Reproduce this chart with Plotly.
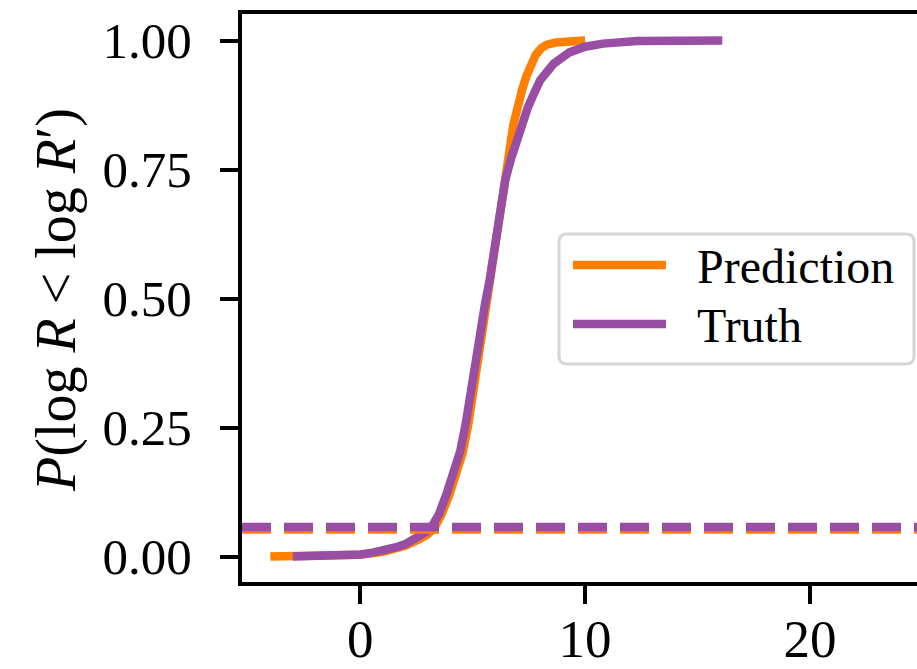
import plotly.graph_objects as go

# ---- data ----
pred_x = [-4.0, -3.0, -2.0, -1.0, 0.0, 1.0, 2.0, 2.6, 3.0, 3.3, 3.6, 3.95, 4.25, 4.55, 4.8, 5.0,
          5.2, 5.45, 5.65, 5.85, 6.05, 6.25, 6.45, 6.6, 6.8, 7.0, 7.2, 7.4, 7.6, 7.8, 8.05, 8.3,
          8.7, 9.2, 10.0]
pred_y = [0.0, 0.0, 0.0005, 0.0015, 0.0035, 0.009, 0.021, 0.033, 0.043, 0.056, 0.08, 0.118,
          0.155, 0.20, 0.255, 0.31, 0.37, 0.44, 0.49, 0.545, 0.60, 0.66, 0.72, 0.775, 0.835,
          0.875, 0.905, 0.932, 0.955, 0.972, 0.985, 0.992, 0.996, 0.999, 1.0]

truth_x = [-3.0, -2.0, -1.0, 0.0, 0.5, 1.0, 1.6, 2.0, 2.5, 2.9, 3.2, 3.5, 3.85, 4.15, 4.45,
           4.7, 4.9, 5.1, 5.35, 5.55, 5.75, 6.0, 6.25, 6.45, 6.7, 6.95, 7.2, 7.45, 7.7, 8.0,
           8.6, 9.3, 10.0, 10.8, 12.3, 14.0, 16.1]
truth_y = [0.0, 0.0005, 0.0015, 0.004, 0.007, 0.011, 0.018, 0.024, 0.035, 0.047, 0.060, 0.082,
           0.123, 0.16, 0.205, 0.26, 0.32, 0.38, 0.45, 0.49, 0.535, 0.60, 0.67, 0.73, 0.77,
           0.805, 0.84, 0.87, 0.895, 0.923, 0.955, 0.977, 0.988, 0.994, 0.999, 1.0, 1.0]

pred_level = 0.0525
truth_level = 0.0571

series_names = ["Prediction", "Truth"]
colors = ["#ff7f00", "#984ea3"]

x_ticks = [0, 10, 20]
y_ticks = [0.0, 0.25, 0.5, 0.75, 1.0]
y_ticktext = ["0.00", "0.25", "0.50", "0.75", "1.00"]

# ---- figure geometry ----
W, H = 917, 669
ML, MR, MT, MB = 242, 0, 14, 87
PW, PH = W - ML - MR, H - MT - MB
FONT = "Liberation Serif"
LW = 8.5


def px(xp):
    return (xp - ML) / PW


def py(yp):
    return (H - MB - yp) / PH


fig = go.Figure()
for xs, ys, name, c in [(pred_x, pred_y, series_names[0], colors[0]),
                        (truth_x, truth_y, series_names[1], colors[1])]:
    fig.add_trace(go.Scatter(x=xs, y=ys, mode="lines", name=name,
                             line=dict(color=c, width=LW), showlegend=False))

shapes = []
for lvl, c in [(pred_level, colors[0]), (truth_level, colors[1])]:
    shapes.append(dict(type="line", xref="x domain", yref="y", x0=0, x1=1, y0=lvl, y1=lvl,
                       line=dict(color=c, width=LW, dash="29px,13px")))

# custom legend box (rounded)
x0, x1, y0, y1 = px(559), px(914), py(364), py(234)
rx, ry = 8 / PW, 8 / PH
path = (f"M{x0+rx},{y0} L{x1-rx},{y0} Q{x1},{y0} {x1},{y0+ry} L{x1},{y1-ry} "
        f"Q{x1},{y1} {x1-rx},{y1} L{x0+rx},{y1} Q{x0},{y1} {x0},{y1-ry} "
        f"L{x0},{y0+ry} Q{x0},{y0} {x0+rx},{y0} Z")
shapes.append(dict(type="path", xref="paper", yref="paper", path=path,
                   fillcolor="white", line=dict(color="#d6d6d6", width=3)))
annotations = []
for i, (name, c) in enumerate(zip(series_names, colors)):
    yy = 265 + i * 59
    shapes.append(dict(type="line", xref="paper", yref="paper", x0=px(573), x1=px(666),
                       y0=py(yy), y1=py(yy), line=dict(color=c, width=LW)))
    annotations.append(dict(text=name, xref="paper", yref="paper", x=px(695), y=py(yy + 1),
                            xanchor="left", yanchor="middle", showarrow=False,
                            font=dict(family=FONT, size=48, color="black")))

annotations.append(dict(text="<i>P</i>(log <i>R</i> &lt; log <i>R</i>′)", xref="paper",
                        yref="paper", x=px(56), y=py(300), xanchor="center",
                        yanchor="middle", textangle=-90, showarrow=False,
                        font=dict(family=FONT, size=56, color="black")))

fig.update_layout(
    width=W, height=H,
    margin=dict(l=ML, r=MR, t=MT, b=MB, autoexpand=False),
    paper_bgcolor="white", plot_bgcolor="white",
    shapes=shapes, annotations=annotations,
    showlegend=False,
)
fig.update_xaxes(range=[-5.26, 24.76], tickvals=x_ticks, showgrid=False, zeroline=False,
                 showline=True, linecolor="black", linewidth=4, mirror=True,
                 ticks="outside", ticklen=18, tickwidth=4, tickcolor="black",
                 ticklabelstandoff=-11, automargin=False,
                 tickfont=dict(family=FONT, size=53, color="black"))
fig.update_yaxes(range=[-0.0494, 1.0514], tickvals=y_ticks, ticktext=y_ticktext,
                 showgrid=False, zeroline=False,
                 showline=True, linecolor="black", linewidth=4, mirror=False,
                 ticks="outside", ticklen=18, tickwidth=4, tickcolor="black",
                 ticklabelstandoff=18, automargin=False,
                 tickfont=dict(family=FONT, size=51, color="black"))

fig.write_html("out.html")
